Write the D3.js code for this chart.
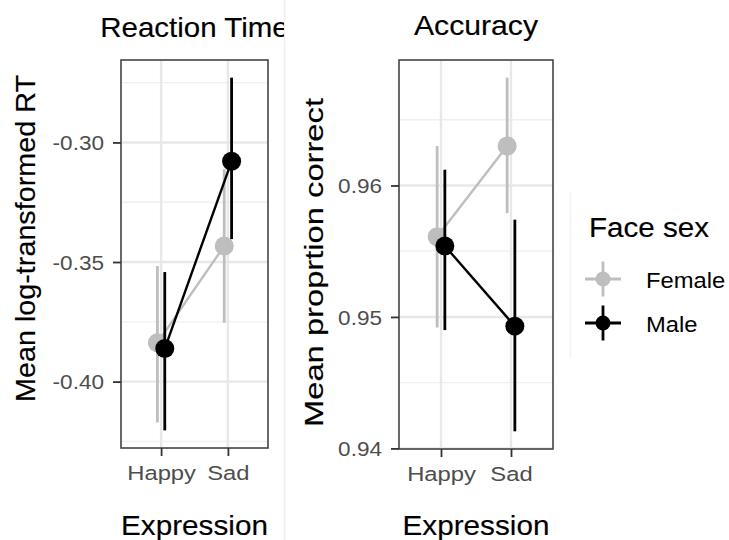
<!DOCTYPE html>
<html>
<head>
<meta charset="utf-8">
<script src="https://cdn.jsdelivr.net/npm/d3@7"></script>
<style>
  html, body { margin: 0; padding: 0; background: #fff; }
  svg { display: block; font-family: "Liberation Sans", Arial, sans-serif; }
</style>
</head>
<body>
<svg id="chart" width="729" height="540"></svg>
<script>
// ---------------- data ----------------
const categories = ["Happy", "Sad"];
const groups = ["Female", "Male"];
const groupColors = ["#bebebe", "#000000"];

// Reaction time (mean log-transformed RT)
const rtFemaleMean = [-0.3838, -0.3433];
const rtFemaleLow  = [-0.4171, -0.3754];
const rtFemaleHigh = [-0.3517, -0.3112];
const rtMaleMean   = [-0.3862, -0.3079];
const rtMaleLow    = [-0.4204, -0.3404];
const rtMaleHigh   = [-0.3542, -0.2729];
const rtTicks      = [-0.40, -0.35, -0.30];
const rtTickLabels = ["-0.40", "-0.35", "-0.30"];
const rtMinor      = [-0.425, -0.375, -0.325, -0.275];

// Accuracy (mean proportion correct)
const accFemaleMean = [0.9561, 0.9630];
const accFemaleLow  = [0.9492, 0.9579];
const accFemaleHigh = [0.9630, 0.9682];
const accMaleMean   = [0.9554, 0.9493];
const accMaleLow    = [0.9490, 0.9413];
const accMaleHigh   = [0.9612, 0.9574];
const accTicks      = [0.94, 0.95, 0.96];
const accTickLabels = ["0.94", "0.95", "0.96"];
const accMinor      = [0.945, 0.955, 0.965];

function rows(means, lows, highs) {
  const out = [];
  groups.forEach((g, gi) => {
    categories.forEach((c, ci) => {
      out.push({ group: g, gi, cat: c, mean: means[gi][ci], low: lows[gi][ci], high: highs[gi][ci] });
    });
  });
  return out;
}
const rtData = rows([rtFemaleMean, rtMaleMean], [rtFemaleLow, rtMaleLow], [rtFemaleHigh, rtMaleHigh]);
const accData = rows([accFemaleMean, accMaleMean], [accFemaleLow, accMaleLow], [accFemaleHigh, accMaleHigh]);

// ---------------- drawing ----------------
const svg = d3.select("#chart");
const FONT = "'Liberation Sans', Arial, sans-serif";

function stretch(sel, sx) {
  sel.each(function () {
    const L = this.getComputedTextLength();
    d3.select(this).attr("textLength", L * sx).attr("lengthAdjust", "spacingAndGlyphs");
  });
}
function heavy(sel, col, w) {
  sel.attr("stroke", col).attr("stroke-width", w);
}

// faint separators between the combined images
svg.append("line").attr("x1", 284.5).attr("x2", 284.5).attr("y1", 0).attr("y2", 540)
  .attr("stroke", "#efefef").attr("stroke-width", 1.5);
svg.append("line").attr("x1", 570.5).attr("x2", 570.5).attr("y1", 192).attr("y2", 358)
  .attr("stroke", "#f2f2f2").attr("stroke-width", 1.5);

const defs = svg.append("defs");
defs.append("clipPath").attr("id", "leftClip").append("rect")
  .attr("x", 0).attr("y", 0).attr("width", 284).attr("height", 540);

function panel(opts) {
  const g = svg.append("g");
  if (opts.clip) g.attr("clip-path", "url(#" + opts.clip + ")");
  const { x0, x1, y0, y1, data } = opts;

  const allVals = data.flatMap(d => [d.low, d.high]);
  const lo = d3.min(allVals), hi = d3.max(allVals), pad = (hi - lo) * 0.05;
  const y = d3.scaleLinear().domain([lo - pad, hi + pad]).range([y1, y0]);
  const x = d3.scalePoint().domain(categories).range([x0, x1]).padding(0.6);
  const dodge = x.step() * 0.055;
  const xd = d => x(d.cat) + (d.gi === 0 ? -dodge : dodge);

  // minor grid
  g.selectAll(".minor").data(opts.minor).join("line")
    .attr("x1", x0).attr("x2", x1).attr("y1", d => y(d)).attr("y2", d => y(d))
    .attr("stroke", "#f0f0f0").attr("stroke-width", 1.3);
  // major grid
  g.selectAll(".majorY").data(opts.ticks).join("line")
    .attr("x1", x0).attr("x2", x1).attr("y1", d => y(d)).attr("y2", d => y(d))
    .attr("stroke", "#e8e8e8").attr("stroke-width", 2.4);
  g.selectAll(".majorX").data(categories).join("line")
    .attr("x1", d => x(d)).attr("x2", d => x(d)).attr("y1", y0).attr("y2", y1)
    .attr("stroke", "#e8e8e8").attr("stroke-width", 2.4);

  // series
  groups.forEach((grp, gi) => {
    const gd = data.filter(d => d.gi === gi);
    const col = groupColors[gi];
    g.append("path").datum(gd)
      .attr("d", d3.line().x(xd).y(d => y(d.mean)))
      .attr("fill", "none").attr("stroke", col).attr("stroke-width", 2.4);
    g.selectAll(null).data(gd).join("line")
      .attr("x1", xd).attr("x2", xd).attr("y1", d => y(d.low)).attr("y2", d => y(d.high))
      .attr("stroke", col).attr("stroke-width", 2.8);
    g.selectAll(null).data(gd).join("circle")
      .attr("cx", xd).attr("cy", d => y(d.mean)).attr("r", 9.5).attr("fill", col);
  });

  // border
  g.append("rect").attr("x", x0).attr("y", y0).attr("width", x1 - x0).attr("height", y1 - y0)
    .attr("fill", "none").attr("stroke", "#444").attr("stroke-width", 1.6);

  // y axis
  const ya = g.append("g").attr("transform", `translate(${x0},0)`)
    .call(d3.axisLeft(y).tickValues(opts.ticks).tickFormat((d, i) => opts.tickLabels[i]).tickSize(8).tickPadding(9));
  ya.select(".domain").remove();
  ya.selectAll("line").attr("stroke", "#333").attr("stroke-width", 1.8);
  ya.selectAll("text").attr("fill", "#4d4d4d").attr("font-size", 20.5).attr("font-family", FONT).attr("dy", "0.36em");
  stretch(ya.selectAll("text"), 1.1);

  // x axis
  const xa = g.append("g").attr("transform", `translate(0,${y1})`)
    .call(d3.axisBottom(x).tickSize(8).tickPadding(9));
  xa.select(".domain").remove();
  xa.selectAll("line").attr("stroke", "#333").attr("stroke-width", 1.8);
  xa.selectAll("text").attr("fill", "#4d4d4d").attr("font-size", 20.5).attr("font-family", FONT);
  stretch(xa.selectAll("text"), 1.16);

  // title
  const t = g.append("text").attr("x", (x0 + x1) / 2).attr("y", opts.titleY)
    .attr("text-anchor", "middle").attr("font-size", 28).attr("fill", "#000").text(opts.title);
  heavy(t, "#000", 0.15);
  stretch(t, opts.titleSx);

  // x axis title
  const xt = g.append("text").attr("x", (x0 + x1) / 2).attr("y", 535)
    .attr("text-anchor", "middle").attr("font-size", 28).attr("fill", "#000").text("Expression");
  heavy(xt, "#000", 0.15);
  stretch(xt, 1.06);

  // y axis title
  const yt = g.append("text")
    .attr("transform", `translate(${opts.yTitleX},${opts.yTitleY}) rotate(-90)`)
    .attr("text-anchor", "middle").attr("font-size", opts.yTitleSize).attr("fill", "#000").text(opts.yTitle);
  heavy(yt, "#000", 0.15);
  yt.attr("textLength", opts.yTitleLen).attr("lengthAdjust", "spacingAndGlyphs");
}

panel({
  x0: 121, x1: 268, y0: 60, y1: 448, data: rtData,
  ticks: rtTicks, tickLabels: rtTickLabels, minor: rtMinor,
  title: "Reaction Time", titleY: 37, titleSx: 1.053, clip: "leftClip",
  yTitle: "Mean log-transformed RT", yTitleX: 35, yTitleY: 238.5, yTitleSize: 28, yTitleLen: 327
});

panel({
  x0: 399, x1: 553, y0: 60, y1: 449, data: accData,
  ticks: accTicks, tickLabels: accTickLabels, minor: accMinor,
  title: "Accuracy", titleY: 35, titleSx: 1.078,
  yTitle: "Mean proprtion correct", yTitleX: 323, yTitleY: 262.5, yTitleSize: 26, yTitleLen: 329
});

// legend
const lg = svg.append("g");
const lt = lg.append("text").attr("x", 589).attr("y", 237).attr("font-size", 27).attr("fill", "#000").text("Face sex");
heavy(lt, "#000", 0.15);
stretch(lt, 1.096);
const keyY = d3.scalePoint().domain(groups).range([279, 323]);
groups.forEach((grp, gi) => {
  const cy = keyY(grp), cx = 603, col = groupColors[gi];
  lg.append("line").attr("x1", cx - 18).attr("x2", cx + 18).attr("y1", cy).attr("y2", cy)
    .attr("stroke", col).attr("stroke-width", 2.8);
  lg.append("line").attr("x1", cx).attr("x2", cx).attr("y1", cy - 17.5).attr("y2", cy + 17.5)
    .attr("stroke", col).attr("stroke-width", 2.8);
  lg.append("circle").attr("cx", cx).attr("cy", cy).attr("r", 7.5).attr("fill", col);
  const tx = lg.append("text").attr("x", 646).attr("y", cy + 9).attr("font-size", 22).attr("fill", "#000").text(grp);
  stretch(tx, 1.08);
});
</script>
</body>
</html>
